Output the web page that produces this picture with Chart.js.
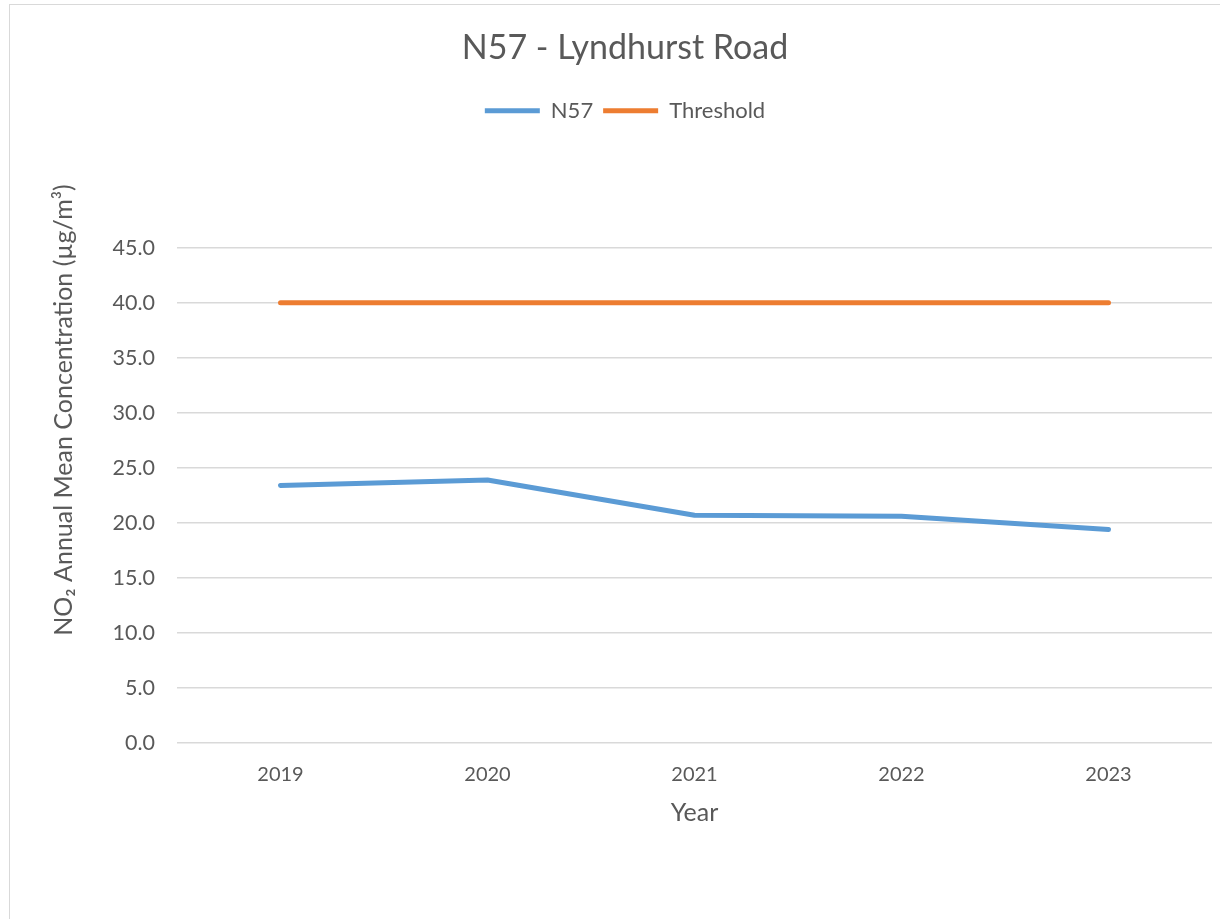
<!DOCTYPE html>
<html>
<head>
<meta charset="utf-8">
<script src="https://cdn.jsdelivr.net/npm/chart.js@4/dist/chart.umd.min.js"></script>
<style>
  html, body { margin: 0; padding: 0; background: #ffffff; overflow: hidden; }
  #wrap { position: relative; width: 1220px; height: 919px; }
  #frame { position: absolute; left: 9px; top: 4px; width: 1230px; height: 930px; border: 1px solid #d9d9d9; pointer-events: none; }
  canvas { position: absolute; left: 0; top: 0; }
</style>
</head>
<body>
<div id="wrap">
  <canvas id="c" width="1220" height="919"></canvas>
  <div id="frame"></div>
</div>
<script>
const chartTitle = 'N57 - Lyndhurst Road';
const years = ['2019', '2020', '2021', '2022', '2023'];
const n57Values = [23.4, 23.9, 20.7, 20.6, 19.4];
const thresholdValues = [40, 40, 40, 40, 40];
const yTicks = [0, 5, 10, 15, 20, 25, 30, 35, 40, 45];
const yTitle = 'NO\u2082 Annual Mean Concentration (\u00B5g/m\u00B3)';
const xTitle = 'Year';

const TEXT = '#595959';
const FONT = 'Lato, "Open Sans", sans-serif';

const legendSpacer = {
  id: 'legendSpacer',
  beforeInit(chart) {
    const orig = chart.legend.fit;
    chart.legend.fit = function () {
      orig.call(this);
      this.height = 158;
    };
  }
};

const yTitlePlugin = {
  id: 'yTitlePlugin',
  afterDraw(chart) {
    const ctx = chart.ctx;
    ctx.save();
    ctx.translate(64, 410);
    ctx.rotate(-Math.PI / 2);
    ctx.fillStyle = TEXT;
    ctx.font = '25px ' + FONT;
    ctx.textAlign = 'center';
    ctx.textBaseline = 'middle';
    ctx.fillText(yTitle, 0, 0);
    ctx.restore();
  }
};

new Chart(document.getElementById('c'), {
  type: 'line',
  data: {
    labels: years,
    datasets: [
      {
        label: 'N57',
        data: n57Values,
        borderColor: '#5B9BD5',
        backgroundColor: '#5B9BD5',
        borderWidth: 5,
        borderCapStyle: 'round',
        borderJoinStyle: 'round',
        pointRadius: 0,
        tension: 0
      },
      {
        label: 'Threshold',
        data: thresholdValues,
        borderColor: '#ED7D31',
        backgroundColor: '#ED7D31',
        borderWidth: 5,
        borderCapStyle: 'round',
        pointRadius: 0,
        tension: 0
      }
    ]
  },
  options: {
    responsive: false,
    animation: false,
    devicePixelRatio: 1,
    layout: { padding: { left: 38, right: 8, top: 0, bottom: 0 } },
    plugins: {
      title: {
        display: true,
        text: chartTitle,
        color: TEXT,
        font: { family: FONT, size: 34, weight: 'normal' },
        padding: { top: 28, bottom: 21 }
      },
      legend: {
        display: true,
        position: 'top',
        labels: {
          color: TEXT,
          font: { family: FONT, size: 22 },
          boxWidth: 55,
          boxHeight: 5,
          padding: 10,
          useBorderRadius: true,
          borderRadius: 2.5,
          generateLabels(chart) {
            return chart.data.datasets.map((ds, i) => ({
              text: ds.label,
              fillStyle: ds.borderColor,
              strokeStyle: ds.borderColor,
              lineWidth: 0,
              fontColor: TEXT,
              hidden: false,
              datasetIndex: i
            }));
          }
        }
      },
      tooltip: { enabled: false }
    },
    scales: {
      x: {
        type: 'category',
        offset: true,
        afterFit(scale) { scale.height = 176; },
        grid: { display: false, drawTicks: false },
        border: { display: false },
        ticks: {
          color: TEXT,
          font: { family: FONT, size: 20 },
          padding: 20,
          maxRotation: 0
        },
        title: {
          display: true,
          text: xTitle,
          color: TEXT,
          font: { family: FONT, size: 25 },
          padding: { top: 0, bottom: 91 }
        }
      },
      y: {
        min: 0,
        max: 45,
        afterFit(scale) { scale.width = 139; },
        afterBuildTicks(scale) { scale.ticks = yTicks.map(v => ({ value: v })); },
        grid: { color: '#D9D9D9', lineWidth: 1.5, drawTicks: false },
        border: { display: false },
        ticks: {
          color: TEXT,
          font: { family: FONT, size: 21.5 },
          padding: 22,
          callback: (v) => Number(v).toFixed(1)
        }
      }
    }
  },
  plugins: [legendSpacer, yTitlePlugin]
});
</script>
</body>
</html>
